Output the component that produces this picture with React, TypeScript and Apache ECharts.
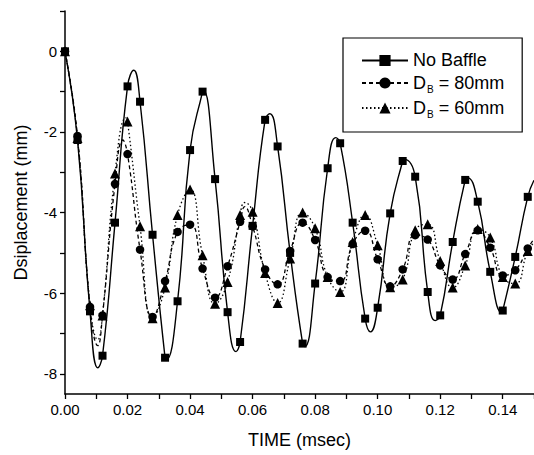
import React, { useEffect, useRef } from 'react';
import * as echarts from 'echarts';

const FONT = '"Liberation Sans", Arial, Helvetica, sans-serif';

// time (msec) of the plotted markers
const markerTimes = [
  0, 0.004, 0.008, 0.012, 0.016, 0.02, 0.024, 0.028, 0.032, 0.036,
  0.04, 0.044, 0.048, 0.052, 0.056, 0.06, 0.064, 0.068, 0.072, 0.076,
  0.08, 0.084, 0.088, 0.092, 0.096, 0.1, 0.104, 0.108, 0.112, 0.116,
  0.12, 0.124, 0.128, 0.132, 0.136, 0.14, 0.144, 0.148,
];

// displacement (mm) at the markers
const noBaffle = [
  0, -2.2, -6.45, -7.55, -4.25, -0.87, -1.25, -4.55, -7.6, -6.2,
  -2.45, -1.0, -3.17, -6.47, -7.21, -4.33, -1.7, -2.36, -5.0, -7.25,
  -5.76, -2.9, -2.28, -4.25, -6.63, -6.36, -4.02, -2.72, -3.11, -5.97,
  -6.55, -4.73, -3.19, -3.73, -5.47, -6.43, -5.1, -3.61,
];
const db80 = [
  0, -2.1, -6.34, -6.55, -3.29, -2.55, -4.92, -6.59, -5.7, -4.48,
  -4.3, -5.39, -6.11, -5.33, -4.23, -4.34, -5.41, -5.78, -4.95, -4.25,
  -4.68, -5.6, -5.7, -4.78, -4.45, -5.16, -5.83, -5.41, -4.56, -4.67,
  -5.31, -5.66, -5.03, -4.44, -4.87, -5.56, -5.43, -4.89,
];
const db60 = [
  0, -2.15, -6.3, -6.55, -3.03, -1.74, -4.34, -6.62, -5.86, -4.06,
  -3.43, -5.06, -6.26, -5.72, -4.06, -3.98, -5.5, -6.24, -5.14, -4.0,
  -4.39, -5.6, -5.97, -4.73, -4.06, -4.81, -5.85, -5.66, -4.44, -4.29,
  -5.2, -5.86, -5.31, -4.41, -4.62, -5.6, -5.76, -4.95,
];

// extra points of the fitted curves (peaks/troughs between markers), no symbol
const noBaffleCurve: [number, number][] = [
  [0.0105, -7.85], [0.022, -0.47], [0.0324, -7.65], [0.0443, -0.97],
  [0.0547, -7.45], [0.0655, -1.55], [0.0767, -7.32], [0.0866, -2.14],
  [0.0977, -6.96], [0.1085, -2.68], [0.1184, -6.68], [0.1288, -3.14],
  [0.1397, -6.48], [0.15, -3.2],
];
const db80Curve: [number, number][] = [
  [0.0105, -7.3], [0.0185, -2.2], [0.0575, -3.85], [0.15, -4.65],
];
const db60Curve: [number, number][] = [
  [0.0105, -7.15], [0.0195, -1.65], [0.0575, -3.75], [0.15, -4.75],
];

const seriesNames = ['No Baffle', 'D_B = 80mm', 'D_B = 60mm'];

const xLabelValues = [0, 0.02, 0.04, 0.06, 0.08, 0.1, 0.12, 0.14];
const xTickValues = [0, 0.01, 0.02, 0.03, 0.04, 0.05, 0.06, 0.07, 0.08, 0.09, 0.1, 0.11, 0.12, 0.13, 0.14, 0.15];
const yLabelValues = [0, -2, -4, -6, -8];
const yTickValues = [1, 0, -1, -2, -3, -4, -5, -6, -7, -8];

function build(values: number[], curve: [number, number][]) {
  const pts: any[] = markerTimes.map((t, i) => ({ value: [t, values[i]] }));
  const extra = curve.map(([t, v]) => ({ value: [t, v], symbol: 'none' }));
  return [...pts, ...extra].sort((a, b) => a.value[0] - b.value[0]);
}

export default function App() {
  const ref = useRef<HTMLDivElement>(null);
  useEffect(() => {
    if (!ref.current) return;
    const chart = echarts.init(ref.current, null, { renderer: 'svg' });
    const black = '#000';
    chart.setOption({
      animation: false,
      backgroundColor: '#fff',
      grid: { left: 65, top: 11, width: 471.5, height: 383 },
      xAxis: {
        type: 'value',
        min: 0,
        max: 0.15,
        name: 'TIME (msec)',
        nameLocation: 'middle',
        nameGap: 37,
        nameTextStyle: { fontFamily: FONT, fontSize: 18, color: black },
        axisLine: { show: true, onZero: false, lineStyle: { color: black, width: 1.5 } },
        axisTick: { show: true, inside: false, length: 5, customValues: xTickValues, lineStyle: { color: black, width: 1.3 } },
        axisLabel: {
          customValues: xLabelValues,
          margin: 8,
          fontFamily: FONT,
          fontSize: 15,
          color: black,
          formatter: (v: number) => v.toFixed(2),
        },
        splitLine: { show: false },
      },
      yAxis: {
        type: 'value',
        min: -8.5,
        max: 1,
        name: 'Dsiplacement (mm)',
        nameLocation: 'middle',
        nameGap: 35,
        nameRotate: 90,
        nameTextStyle: { fontFamily: FONT, fontSize: 18, color: black },
        axisLine: { show: true, onZero: false, lineStyle: { color: black, width: 1.5 } },
        axisTick: { show: true, inside: false, length: 5, customValues: yTickValues, lineStyle: { color: black, width: 1.3 } },
        axisLabel: {
          customValues: yLabelValues,
          margin: 8,
          fontFamily: FONT,
          fontSize: 15,
          color: black,
        },
        splitLine: { show: false },
      },
      legend: {
        orient: 'vertical',
        left: 343,
        top: 38,
        padding: [13, 18, 13, 18],
        itemWidth: 46,
        itemHeight: 14,
        itemGap: 3,
        borderColor: black,
        borderWidth: 1.2,
        borderRadius: 0,
        backgroundColor: '#fff',
        data: seriesNames,
        formatter: (name: string) =>
          name.startsWith('D_B') ? `{d|D}{s|B}{d|${name.slice(3)}}` : `{d|${name}}`,
        textStyle: {
          fontFamily: FONT,
          fontSize: 18,
          color: black,
          rich: {
            d: { fontFamily: FONT, fontSize: 18, lineHeight: 19, verticalAlign: 'top', color: black },
            s: { fontFamily: FONT, fontSize: 10, lineHeight: 10, padding: [12, 0, 0, 1], color: black },
          },
        },
      },
      series: [
        {
          name: seriesNames[0],
          type: 'line',
          smooth: 0.5,
          data: build(noBaffle, noBaffleCurve),
          symbol: 'rect',
          symbolSize: 8,
          itemStyle: { color: black },
          lineStyle: { color: black, width: 1.4, type: 'solid' },
          z: 3,
        },
        {
          name: seriesNames[1],
          type: 'line',
          smooth: 0.5,
          data: build(db80, db80Curve),
          symbol: 'circle',
          symbolSize: 8.5,
          itemStyle: { color: black },
          lineStyle: { color: black, width: 1.3, type: [4, 3] },
          z: 2,
        },
        {
          name: seriesNames[2],
          type: 'line',
          smooth: 0.5,
          data: build(db60, db60Curve),
          symbol: 'triangle',
          symbolSize: 10,
          itemStyle: { color: black },
          lineStyle: { color: black, width: 1.3, type: [1.5, 2.5] },
          z: 2,
        },
      ],
    });
    return () => chart.dispose();
  }, []);
  return (
    <div
      ref={ref}
      style={{ position: 'absolute', left: 0, top: 0, width: 534, height: 455, background: '#fff' }}
    />
  );
}
